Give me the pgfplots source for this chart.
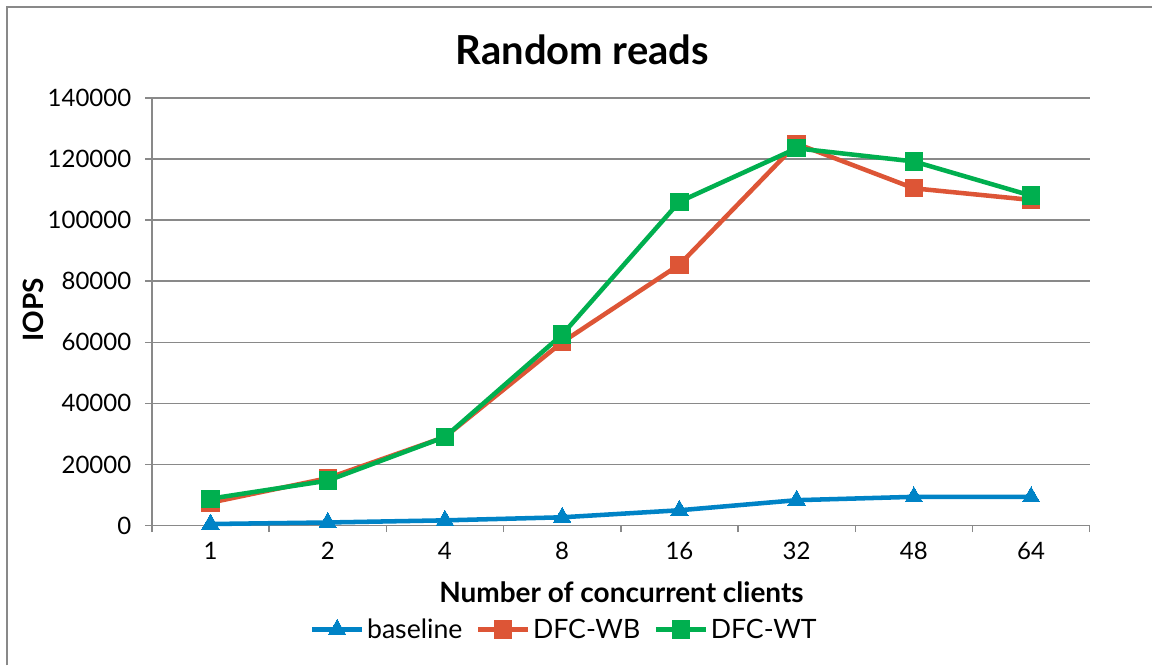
\documentclass[border=0pt]{standalone}
\usepackage{pgfplots}
\pgfplotsset{compat=1.18}
\usepackage{fontspec}
\setmainfont{Lato}
\definecolor{cblue}{HTML}{0083C6}
\definecolor{cred}{HTML}{DD5536}
\definecolor{cgreen}{HTML}{00AF4F}
\definecolor{cgrid}{HTML}{898989}
\begin{document}
\begin{tikzpicture}[x=0.75pt,y=0.75pt]
\fill[white] (0,0) rectangle (1153,666);
\draw[cgrid,line width=1.5pt] (7,0) -- (7,659) -- (1153,659);
\node[font=\bfseries\fontsize{30}{34}\selectfont] at (583,616) {Random reads};
\node[font=\bfseries\fontsize{21}{24}\selectfont] at (622,73) {Number of concurrent clients};
\node[font=\bfseries\fontsize{21}{24}\selectfont,rotate=90] at (33,356) {IOPS};
\begin{axis}[
  at={(114pt,105pt)}, anchor=south west,
  width=704pt, height=321pt, scale only axis,
  xmin=-0.5, xmax=7.5, ymin=0, ymax=140000,
  xtick={-0.5,0.5,...,6.5}, xticklabels={1,2,4,8,16,32,48,64},
  extra x ticks={7.5}, extra x tick labels={},
  xticklabel style={xshift=44pt,yshift=-4pt},
  ytick={0,20000,...,140000},
  scaled y ticks=false,
  /pgf/number format/assume math mode=true,
  yticklabel style={/pgf/number format/fixed,/pgf/number format/1000 sep={},xshift=-7pt},
  ticklabel style={font=\fontsize{18}{20}\selectfont},
  ymajorgrids, grid style={cgrid,line width=1.1pt},
  axis x line*=bottom, axis y line*=left,
  axis line style={cgrid,line width=1.1pt,-},
  tick style={cgrid,line width=1.1pt},
  tick align=outside, major tick length=5pt,
  clip=false,
  legend columns=3,
  legend style={draw=none,fill=none,at={(0.440,-0.243)},anchor=center,font=\fontsize{20}{22}\selectfont,
    /tikz/every even column/.append style={column sep=8pt}},
  legend image code/.code={\draw[mark repeat=2,mark phase=2] plot coordinates {(0cm,0cm) (0.66cm,0cm) (1.32cm,0cm)};},
]
\addplot[cblue,line width=3.4pt,mark=triangle*,mark size=7.5pt,mark options={solid,fill=cblue,line width=0pt}]
  coordinates {(0,500) (1,1000) (2,1700) (3,2700) (4,5000) (5,8300) (6,9400) (7,9400)};
\addlegendentry{baseline}
\addplot[cred,line width=3.4pt,mark=square*,mark size=6.5pt,mark options={solid,fill=cred,line width=0pt}]
  coordinates {(0,7500) (1,15500) (2,29000) (3,60000) (4,85400) (5,125000) (6,110400) (7,106600)};
\addlegendentry{DFC-WB}
\addplot[cgreen,line width=3.4pt,mark=square*,mark size=6.5pt,mark options={solid,fill=cgreen,line width=0pt}]
  coordinates {(0,8800) (1,14700) (2,29000) (3,62500) (4,106000) (5,123500) (6,119200) (7,108000)};
\addlegendentry{DFC-WT}
\end{axis}
\end{tikzpicture}
\end{document}
